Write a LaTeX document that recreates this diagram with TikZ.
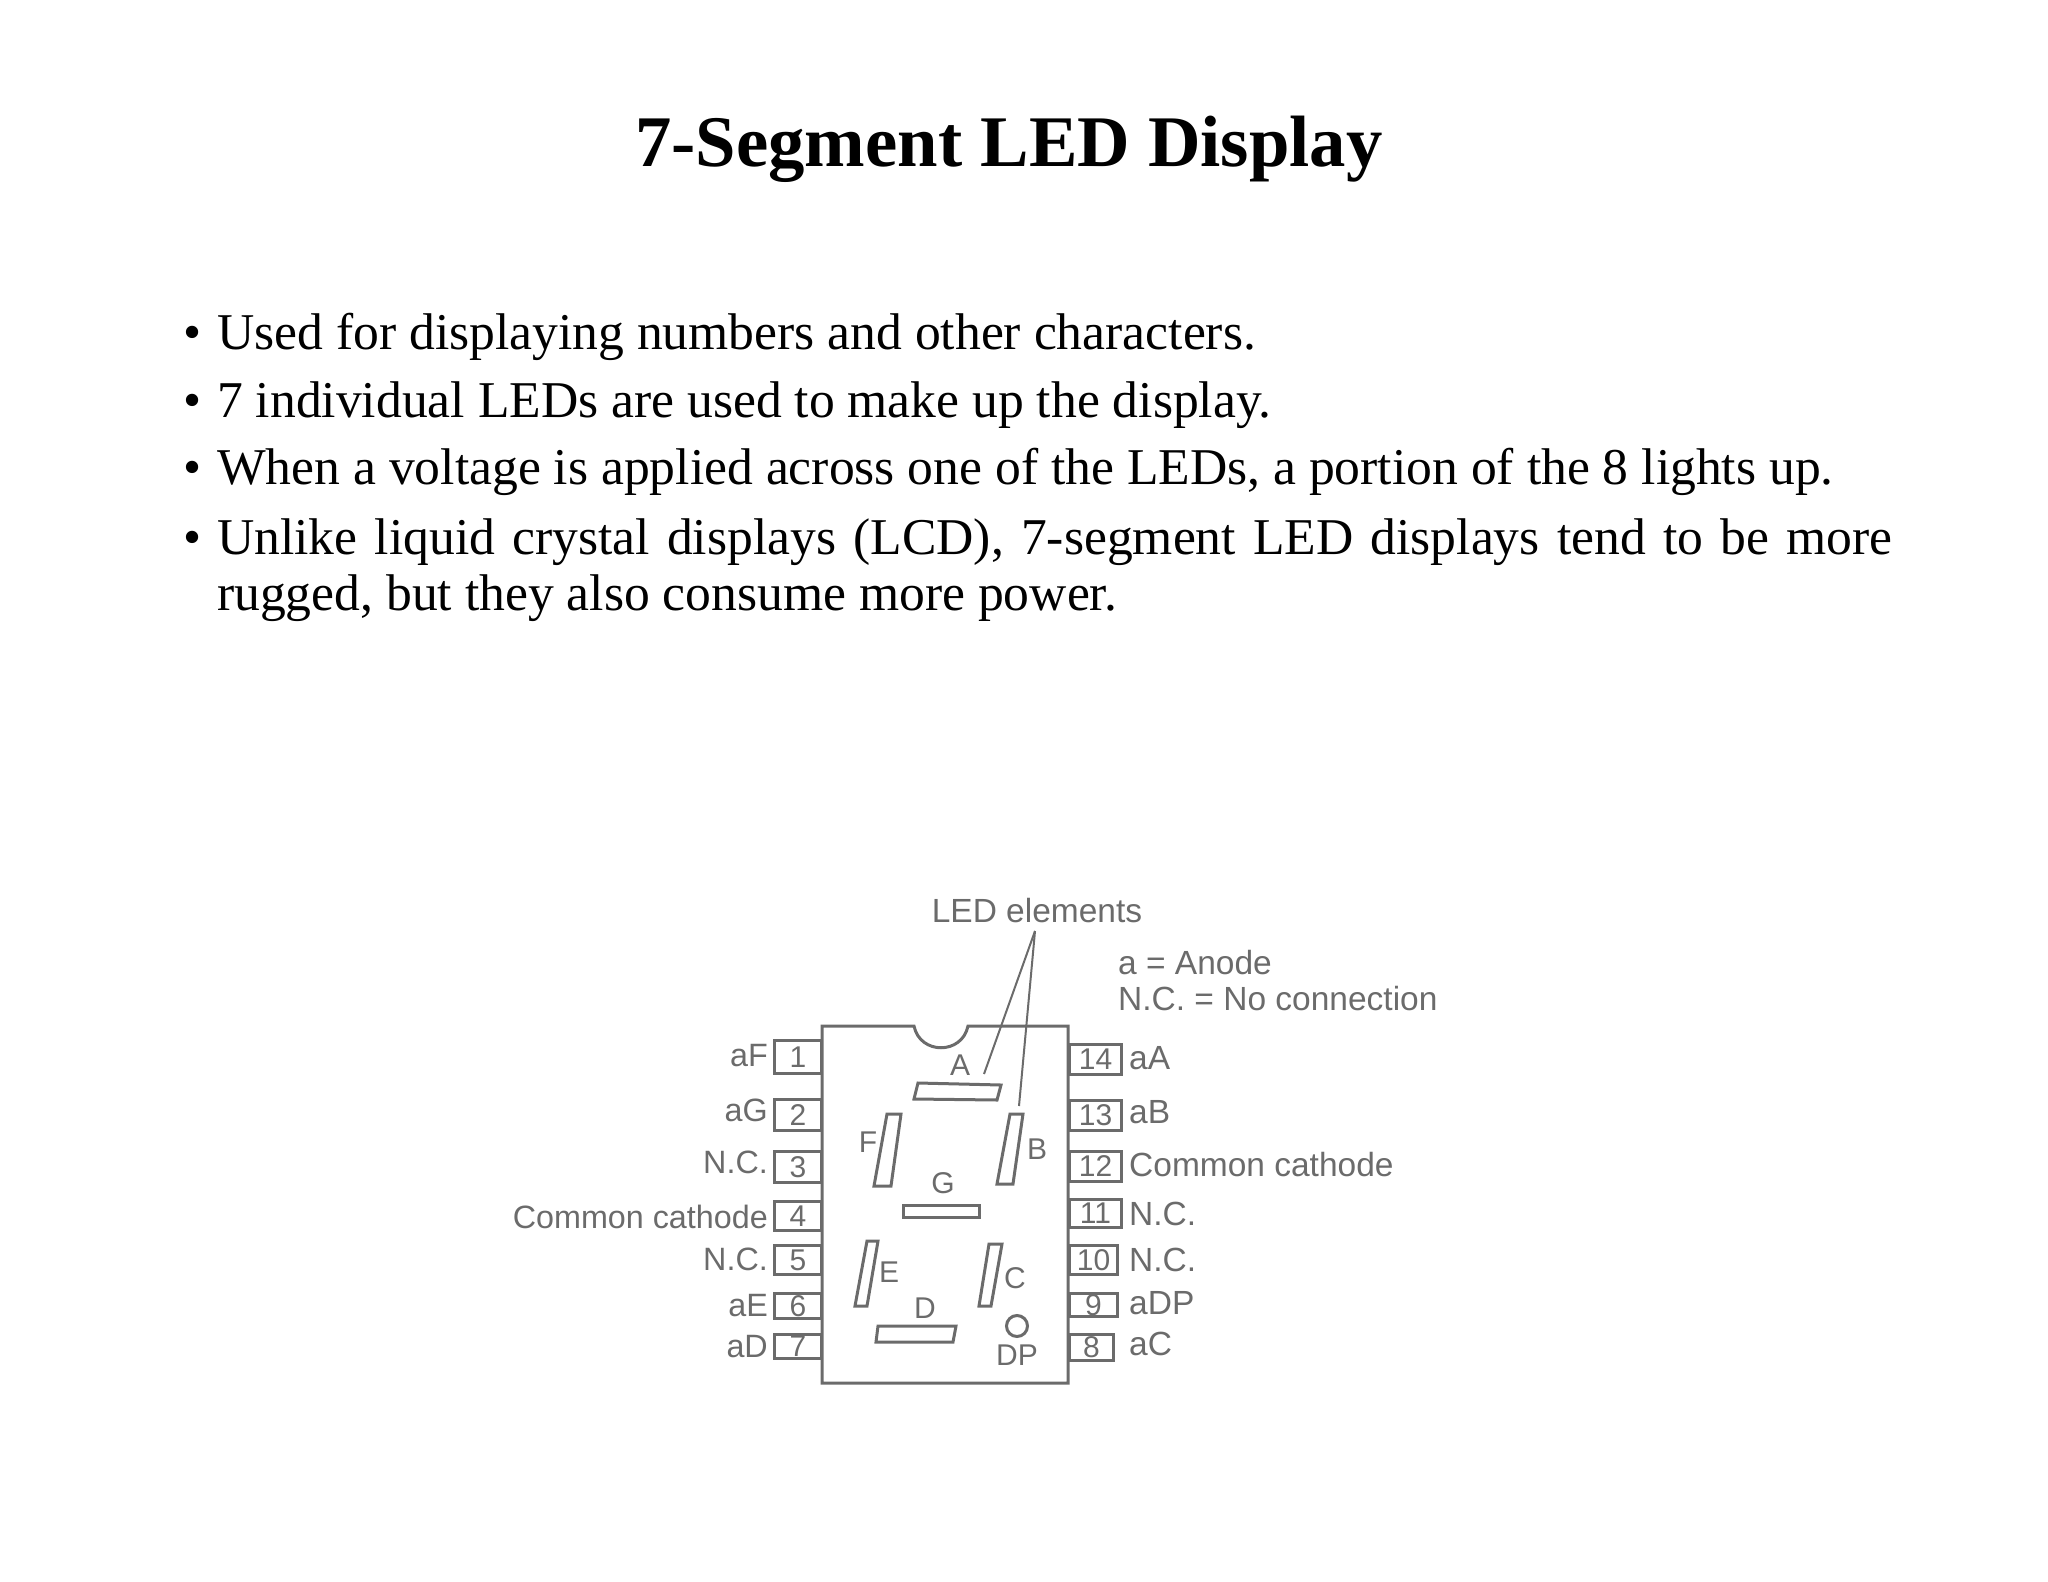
\documentclass[tikz,border=0pt]{standalone}
\usepackage{fontspec}
\setmainfont{Liberation Serif}
\newfontfamily\chipfont{Liberation Sans}
\definecolor{chipgray}{gray}{0.42}
\tikzset{
  slidetitle/.style={anchor=base,inner sep=0pt,font=\fontsize{72.7}{78}\selectfont\bfseries},
  slidetext/.style={anchor=base west,inner sep=0pt,font=\fontsize{51.6}{56}\selectfont},
  chipline/.style={draw=chipgray,line width=3pt},
  chiptext/.style={inner sep=0pt,text=chipgray,font=\fontsize{33.5}{39}\selectfont\chipfont},
  lefttext/.style={chiptext,font=\fontsize{32.3}{39}\selectfont\chipfont},
  pinbox/.style={chipline,inner sep=0pt,text=chipgray,font=\fontsize{30}{30}\selectfont\chipfont},
  seglabel/.style={chiptext,font=\fontsize{30}{30}\selectfont\chipfont},
  leader/.style={draw=chipgray,line width=2pt}
}
\begin{document}
\begin{tikzpicture}[x=1pt,y=-1pt]
\useasboundingbox (0,0) rectangle (2048,1582);
\node[slidetitle] (title) at (1009,166) {7-Segment LED Display};
\foreach \y in {349,417,484,554} {
  \node[slidetext] (dot\y) at (183,\y) {\textbullet};
}
\node[slidetext] (used) at (217,349) {Used for displaying numbers and other characters.};
\node[slidetext] (indiv) at (217,417) {7 individual LEDs are used to make up the display.};
\node[slidetext] (when) at (217,484) {When a voltage is applied across one of the LEDs, a portion of the 8 lights up.};
\node[slidetext,anchor=base west,text width=1675pt,align=justify] (unlike) at (217,554)
  {Unlike liquid crystal displays (LCD), 7-segment LED displays tend to be more rugged, but they also consume more power.};
% pins, left side
\foreach \n/\yc/\h/\ly/\lab in {1/1057/33/1056/aF,2/1115/31/1110/aG,3/1167/31/1162/N.C.,
  4/1216/29/1217/Common cathode,5/1260/29/1259/N.C.,6/1306/25/1306/aE,7/1346/24/1347/aD} {
  \node[pinbox,minimum width=47pt,minimum height=\h pt] (pin\n) at (798,\yc) {\n};
  \node[lefttext,anchor=east] (lab\n) at (768,\ly) {\lab};
}
% pins, right side
\foreach \n/\yc/\h/\w/\ly/\lab in {14/1059/30/52/1058/aA,13/1115/30/52/1112/aB,12/1166/30/52/1165/Common cathode,
  11/1213/28/52/1214/N.C.,10/1260/29/48/1260/N.C.,9/1305/23/48/1303/aDP,8/1347/26/44/1344/aC} {
  \node[pinbox,anchor=west,minimum width=\w pt,minimum height=\h pt] (pin\n) at (1068,\yc) {\n};
  \node[chiptext,anchor=west] (lab\n) at (1129,\ly) {\lab};
}
% chip body with notch
\draw[chipline] (822,1026) -- (914,1026) .. controls (920,1055) and (962,1055) .. (968,1026)
  -- (1068,1026) -- (1068,1383) -- (822,1383) -- cycle;
% segments
\draw[chipline] (918,1083) -- (1001,1085) -- (997,1100) -- (914,1099) -- cycle;
\draw[chipline] (887,1114) -- (901,1114) -- (891,1186) -- (874,1186) -- cycle;
\draw[chipline] (1010,1114) -- (1023,1114) -- (1013,1184) -- (997,1184) -- cycle;
\draw[chipline] (903,1205) -- (979,1205) -- (979,1217) -- (903,1217) -- cycle;
\draw[chipline] (867,1241) -- (878,1241) -- (867,1306) -- (855,1306) -- cycle;
\draw[chipline] (989,1244) -- (1002,1244) -- (991,1306) -- (979,1306) -- cycle;
\draw[chipline] (878,1326) -- (956,1326) -- (953,1342) -- (876,1342) -- cycle;
\node[chipline,circle,minimum size=21pt,inner sep=0pt] (dp) at (1017,1326) {};
\foreach \s/\x/\y in {A/960/1065,B/1037/1149,C/1015/1278,D/925/1308,E/889/1272,F/868/1142,G/943/1183,DP/1017/1355} {
  \node[seglabel] (seg\s) at (\x,\y) {\s};
}
% legend and leaders
\node[chiptext] (leds) at (1037,911) {LED elements};
\node[chiptext,anchor=west] (anode) at (1118,963) {a = Anode};
\node[chiptext,anchor=west] (nocon) at (1118,999) {N.C. = No connection};
\coordinate (apex) at (1035,931);
\coordinate (tipA) at (984,1074);
\coordinate (tipB) at (1019,1106);
\draw[leader] (apex) -- (tipA);
\draw[leader] (apex) -- (tipB);
\end{tikzpicture}
\end{document}
